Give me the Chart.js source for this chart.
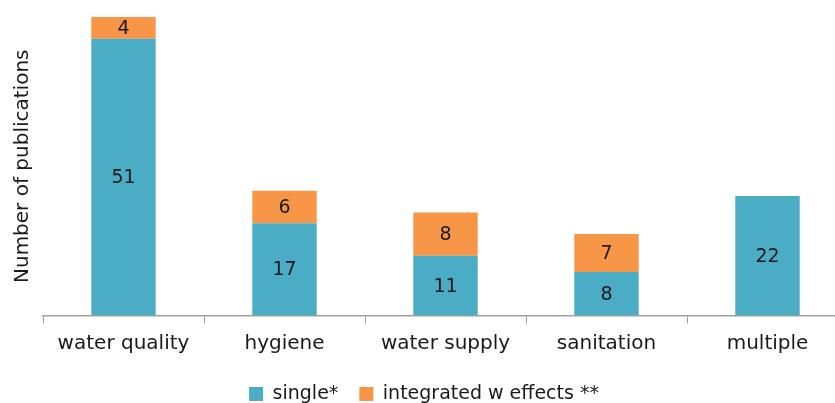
<!DOCTYPE html>
<html>
<head>
<meta charset="utf-8">
<script src="https://cdn.jsdelivr.net/npm/chart.js@4"></script>
<style>
  html, body { margin: 0; padding: 0; background: #fff; overflow: hidden; }
  #wrap { width: 848px; height: 403px; }
</style>
</head>
<body>
<div id="wrap"><canvas id="chart"></canvas></div>
<script>
const categories = ['water quality', 'hygiene', 'water supply', 'sanitation', 'multiple'];
const singleValues = [51, 17, 11, 8, 22];
const integratedValues = [4, 6, 8, 7, 0];
const seriesNames = ['single*', 'integrated w effects **'];

const FONT = '"DejaVu Sans", sans-serif';

// draws the value in the middle of each bar segment
const barLabels = {
    id: 'barLabels',
    afterDatasetsDraw: (chart) => {
        const { ctx } = chart;
        ctx.save();
        ctx.font = '19px ' + FONT;
        ctx.fillStyle = '#1a1a1a';
        ctx.textAlign = 'center';
        ctx.textBaseline = 'middle';
        chart.data.datasets.forEach((ds, i) => {
            chart.getDatasetMeta(i).data.forEach((bar, j) => {
                const v = ds.data[j];
                if (!v) return;
                ctx.fillText(String(v), bar.x, (bar.y + bar.base) / 2 + 1);
            });
        });
        ctx.restore();
    }
};

new Chart(document.getElementById('chart'), {
    type: 'bar',
    data: {
        labels: categories,
        datasets: [{
            label: seriesNames[0],
            data: singleValues,
            backgroundColor: '#4BACC6'
        }, {
            label: seriesNames[1],
            data: integratedValues,
            backgroundColor: '#F79646'
        }]
    },
    options: {
        responsive: true,
        maintainAspectRatio: false,
        animation: false,
        layout: {
            padding: { top: 17, left: 0, right: 0, bottom: -10.5 }
        },
        datasets: {
            bar: {
                categoryPercentage: 0.4,
                barPercentage: 1
            }
        },
        plugins: {
            tooltip: { enabled: false },
            legend: {
                position: 'bottom',
                labels: {
                    boxWidth: 14,
                    boxHeight: 14,
                    padding: 21,
                    color: '#1a1a1a',
                    font: { family: FONT, size: 19 }
                }
            }
        },
        scales: {
            x: {
                stacked: true,
                grid: {
                    drawOnChartArea: false,
                    drawTicks: true,
                    tickLength: 8,
                    color: '#a0a0a0'
                },
                border: { color: '#a0a0a0', width: 1.5 },
                ticks: {
                    color: '#1a1a1a',
                    padding: 8,
                    font: { family: FONT, size: 20 }
                }
            },
            y: {
                stacked: true,
                min: 0,
                max: 55,
                grid: { display: false },
                border: { display: false },
                ticks: { display: false },
                title: {
                    display: true,
                    text: 'Number of publications',
                    color: '#1a1a1a',
                    padding: { top: 11, bottom: 0 },
                    font: { family: FONT, size: 20 }
                }
            }
        }
    },
    plugins: [barLabels]
});
</script>
</body>
</html>
